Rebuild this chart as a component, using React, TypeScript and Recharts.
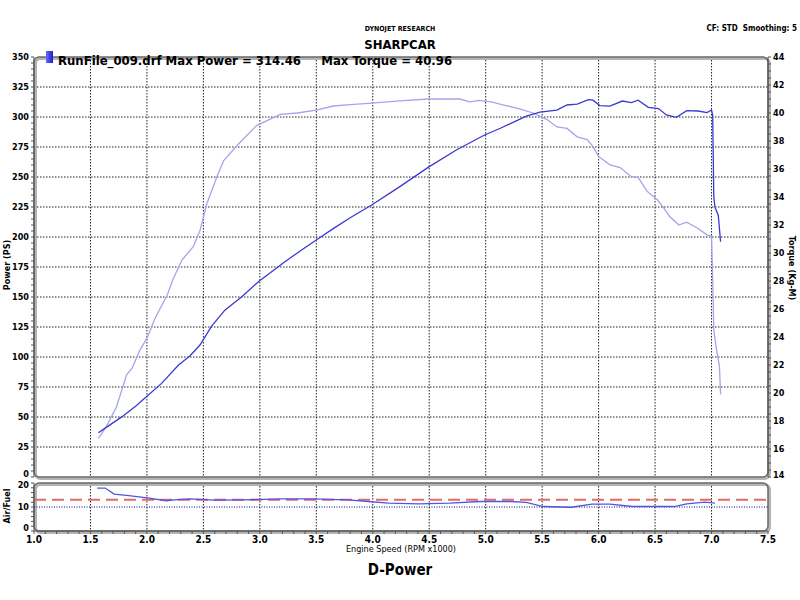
import React from 'react';
import { LineChart, Line, XAxis, YAxis, CartesianGrid, ReferenceLine, ReferenceArea } from 'recharts';

// ---------- data ----------
const powerRpm = [1.57, 1.65, 1.78, 1.9, 1.98, 2.13, 2.28, 2.38, 2.47, 2.57, 2.69, 2.84, 2.99, 3.21, 3.36, 3.5, 3.65, 3.8, 3.99, 4.24, 4.49, 4.74, 4.99, 5.13, 5.36, 5.48, 5.63, 5.72, 5.81, 5.91, 5.95, 6.01, 6.1, 6.21, 6.29, 6.35, 6.44, 6.53, 6.6, 6.69, 6.78, 6.88, 6.96, 7.0, 7.01, 7.02, 7.03, 7.06, 7.08];
const powerPs = [36.9, 42, 50.3, 59, 65.6, 78, 93.3, 100.8, 110, 125.3, 139, 150.3, 163, 178.5, 188.6, 197.5, 207, 216, 226.7, 242, 258, 272.5, 285, 290.6, 300.8, 304, 305.8, 310, 310.8, 314.5, 314, 309.5, 309, 313.3, 312, 314, 308, 307, 301.7, 299.7, 305.3, 305, 303.6, 305.8, 301.7, 233.6, 225, 218, 196];

const torqueRpm = [1.57, 1.64, 1.73, 1.82, 1.87, 1.94, 2.0, 2.07, 2.18, 2.23, 2.31, 2.41, 2.47, 2.53, 2.62, 2.68, 2.8, 2.97, 3.18, 3.33, 3.5, 3.65, 3.8, 3.99, 4.24, 4.49, 4.68, 4.77, 4.86, 4.94, 5.05, 5.16, 5.3, 5.42, 5.54, 5.63, 5.72, 5.81, 5.9, 5.95, 6.0, 6.1, 6.19, 6.29, 6.35, 6.43, 6.52, 6.57, 6.63, 6.71, 6.78, 6.87, 6.96, 7.0, 7.01, 7.02, 7.04, 7.07, 7.08];
const torqueKgm = [16.76, 17.6, 19.0, 21.3, 21.8, 23.1, 23.9, 25.3, 27.0, 28.1, 29.5, 30.45, 31.6, 33.5, 35.45, 36.6, 37.7, 39.1, 39.9, 40.0, 40.2, 40.5, 40.6, 40.7, 40.86, 41.0, 41.0, 41.0, 40.8, 40.9, 40.8, 40.57, 40.3, 40.0, 39.55, 39.0, 38.9, 38.3, 38.1, 37.6, 36.9, 36.3, 36.1, 35.45, 35.4, 34.4, 33.8, 33.3, 32.6, 32.0, 32.2, 31.8, 31.3, 31.2, 28.1, 24.5, 23.3, 21.9, 19.9];

const afrRpm = [1.56, 1.63, 1.71, 1.84, 2.02, 2.17, 2.24, 2.38, 2.6, 2.87, 3.19, 3.46, 3.78, 3.96, 4.14, 4.41, 4.68, 4.95, 5.22, 5.36, 5.51, 5.76, 5.94, 6.1, 6.3, 6.67, 6.78, 6.94, 7.03];
const afrValue = [17.9, 17.9, 15.4, 14.7, 13.7, 12.6, 13.0, 13.4, 12.9, 13.0, 13.4, 13.4, 13.0, 12.3, 11.6, 11.3, 11.6, 12.3, 12.3, 11.9, 10.2, 9.9, 11.2, 11.2, 10.2, 10.2, 11.3, 12.0, 11.6];
const afrTarget = 13;

const rpmGrid = [1.5, 2.0, 2.5, 3.0, 3.5, 4.0, 4.5, 5.0, 5.5, 6.0, 6.5, 7.0];
const rpmMinorTicks = Array.from({ length: 66 }, (_, i) => Math.round((1 + i * 0.1) * 10) / 10);
const powerGrid = [25, 50, 75, 100, 125, 150, 175, 200, 225, 250, 275, 300, 325];
const powerTicks = Array.from({ length: 71 }, (_, i) => i * 5);
const torqueTicks = Array.from({ length: 61 }, (_, i) => 14 + i * 0.5);
const afrTicks = [0, 2, 4, 6, 8, 10, 12, 14, 16, 18, 20];

const powerData = powerRpm.map((r, i) => ({ rpm: r, power: powerPs[i] }));
const torqueData = torqueRpm.map((r, i) => ({ rpm: r, torque: torqueKgm[i] }));
const afrData = afrRpm.map((r, i) => ({ rpm: r, afr: afrValue[i] }));

const FONT = "'DejaVu Sans Condensed', 'DejaVu Sans', sans-serif";

const Frame = (props: any) => {
  const { x, y, width, height } = props;
  return (
    <g>
      <rect x={x + 1.5} y={y + 1.5} width={width} height={height} rx={5} fill="none" stroke="#b4b4b4" strokeWidth={3} />
      <rect x={x} y={y} width={width} height={height} rx={5} fill="none" stroke="#6a6a6a" strokeWidth={1.5} />
    </g>
  );
};

const makeTick = (step: number, anchor: 'start' | 'end', shifts: Record<number, number>) => (props: any) => {
  const { x, y, payload } = props;
  const v = payload.value;
  if (Math.abs(v / step - Math.round(v / step)) > 1e-6) return <g />;
  const dy = shifts[v] ?? 0;
  return (
    <text x={x} y={y + dy} dy="0.35em" textAnchor={anchor} fontSize={9} fontWeight="bold" fontFamily={FONT} fill="#000">
      {String(v)}
    </text>
  );
};

const PowerTick = makeTick(25, 'end', { 0: -3 });
const TorqueTick = makeTick(2, 'start', { 14: -2 });
const AfrTick = makeTick(10, 'end', { 20: 2, 0: -3 });

export default function App() {
  return (
    <div style={{ position: 'absolute', left: 0, top: 0, width: 800, height: 600, background: '#fff', fontFamily: FONT, overflow: 'hidden' }}>
      <div style={{ position: 'absolute', left: 0, top: 0 }}>
        <LineChart width={800} height={492} margin={{ top: 57, right: 0, bottom: 15, left: 0 }}>
          <XAxis type="number" dataKey="rpm" domain={[1, 7.5]} hide allowDataOverflow />
          <YAxis
            yAxisId="p"
            type="number"
            domain={[0, 350]}
            ticks={powerTicks}
            interval={0}
            width={34}
            tickSize={3}
            tick={PowerTick}
            axisLine={{ stroke: '#555' }}
            tickLine={{ stroke: '#555' }}
          />
          <YAxis
            yAxisId="t"
            orientation="right"
            type="number"
            domain={[14, 44]}
            ticks={torqueTicks}
            interval={0}
            width={32}
            tickSize={3}
            tick={TorqueTick}
            axisLine={{ stroke: '#555' }}
            tickLine={{ stroke: '#555' }}
          />
          <CartesianGrid yAxisId="p" verticalValues={rpmGrid} horizontalValues={powerGrid} stroke="#222" strokeDasharray="1.5 1.5" />
          <ReferenceArea yAxisId="p" x1={1} x2={7.5} y1={0} y2={350} shape={Frame} />
          <Line yAxisId="t" data={torqueData} dataKey="torque" type="linear" dot={false} stroke="#a4a4ec" strokeWidth={1.3} isAnimationActive={false} />
          <Line yAxisId="p" data={powerData} dataKey="power" type="linear" dot={false} stroke="#3a3ad0" strokeWidth={1.3} isAnimationActive={false} />
        </LineChart>
      </div>

      <div style={{ position: 'absolute', left: 0, top: 478 }}>
        <LineChart width={800} height={75} margin={{ top: 5, right: 32, bottom: 0, left: 0 }}>
          <XAxis
            type="number"
            dataKey="rpm"
            domain={[1, 7.5]}
            ticks={rpmMinorTicks}
            interval={0}
            height={22}
            tickSize={3}
            tickFormatter={(v: number) => (Math.abs(v * 2 - Math.round(v * 2)) < 1e-6 ? v.toFixed(1) : '')}
            tick={{ fontSize: 10, fill: '#000', fontFamily: FONT, fontWeight: 'bold' }}
            axisLine={{ stroke: '#555' }}
            tickLine={{ stroke: '#555' }}
          />
          <YAxis
            type="number"
            domain={[0, 20]}
            ticks={afrTicks}
            interval={0}
            width={34}
            tickSize={3}
            tick={AfrTick}
            axisLine={{ stroke: '#555' }}
            tickLine={{ stroke: '#555' }}
          />
          <CartesianGrid verticalValues={rpmGrid} horizontal={false} stroke="#222" strokeDasharray="1.5 1.5" />
          <ReferenceLine y={10} stroke="#000080" strokeDasharray="1 1.5" />
          <ReferenceArea x1={1} x2={7.5} y1={0} y2={20} shape={Frame} />
          <ReferenceLine y={afrTarget} stroke="#e26a6a" strokeWidth={2} strokeDasharray="12 6" />
          <Line data={afrData} dataKey="afr" type="linear" dot={false} stroke="#5454dc" strokeWidth={1.3} isAnimationActive={false} />
        </LineChart>
      </div>

      {/* titles */}
      <div style={{ position: 'absolute', left: 400, top: 29, transform: 'translate(-50%,-50%)', fontSize: 7, fontWeight: 'bold', whiteSpace: 'nowrap' }}>DYNOJET RESEARCH</div>
      <div style={{ position: 'absolute', left: 400, top: 44, transform: 'translate(-50%,-50%)', fontSize: 13, fontWeight: 'bold', whiteSpace: 'nowrap' }}>SHARPCAR</div>
      <div style={{ position: 'absolute', left: 797, top: 28, transform: 'translate(-100%,-50%)', fontSize: 8, fontWeight: 'bold', whiteSpace: 'pre' }}>CF: STD  Smoothing: 5</div>

      {/* legend */}
      <div style={{ position: 'absolute', left: 46, top: 51, width: 7, height: 12, background: 'linear-gradient(90deg,#6a6aff,#1c1cc8)' }} />
      <div style={{ position: 'absolute', left: 58, top: 60, transform: 'translateY(-50%)', fontSize: 13, fontWeight: 'bold', whiteSpace: 'pre' }}>RunFile_009.drf Max Power = 314.46     Max Torque = 40.96</div>

      {/* axis titles */}
      <div style={{ position: 'absolute', left: 7, top: 265, transform: 'translate(-50%,-50%) rotate(-90deg)', fontSize: 9, fontWeight: 'bold', whiteSpace: 'nowrap' }}>Power (PS)</div>
      <div style={{ position: 'absolute', left: 792, top: 268, transform: 'translate(-50%,-50%) rotate(90deg)', fontSize: 9, fontWeight: 'bold', whiteSpace: 'nowrap' }}>Torque (Kg-M)</div>
      <div style={{ position: 'absolute', left: 7, top: 506, transform: 'translate(-50%,-50%) rotate(-90deg)', fontSize: 9, fontWeight: 'bold', whiteSpace: 'nowrap' }}>Air/Fuel</div>
      <div style={{ position: 'absolute', left: 401, top: 549, transform: 'translate(-50%,-50%)', fontSize: 9, whiteSpace: 'nowrap' }}>Engine Speed (RPM x1000)</div>
      <div style={{ position: 'absolute', left: 400, top: 570, transform: 'translate(-50%,-50%)', fontSize: 15, fontWeight: 'bold', whiteSpace: 'nowrap' }}>D-Power</div>
    </div>
  );
}
